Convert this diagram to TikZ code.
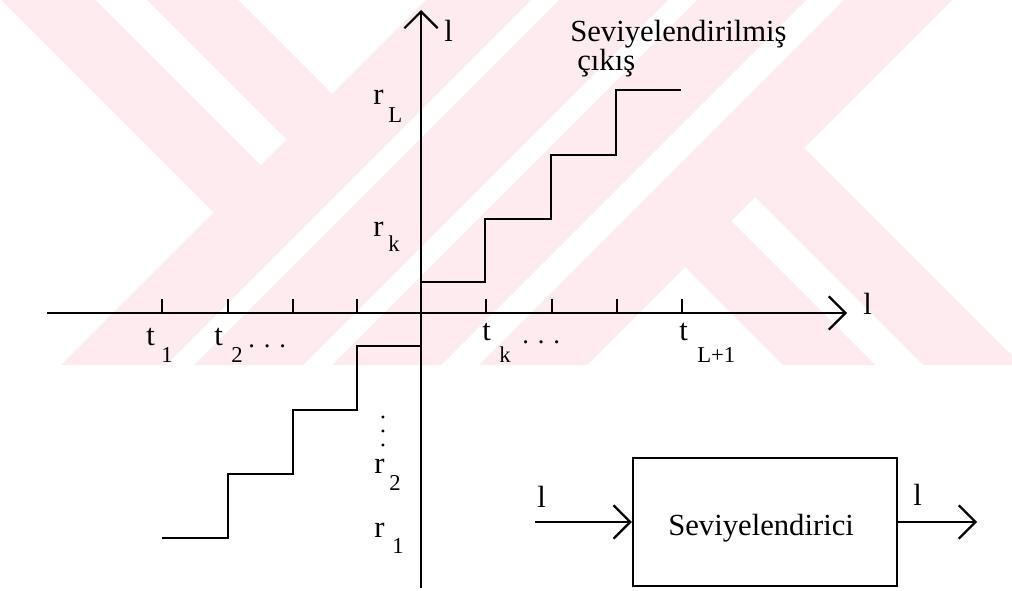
\documentclass[tikz,border=0pt]{standalone}
\usepackage{fontspec}
\setmainfont{Liberation Serif}
\usetikzlibrary{arrows.meta}
\definecolor{wm}{RGB}{253,235,239}
\begin{document}
\begin{tikzpicture}[x=0.75pt,y=-0.75pt,
  axisline/.style={line width=1.7pt},
  stair/.style={line width=1.9pt},
  barb/.style={-{Straight Barb[length=12.5pt,width=25pt]}},
  lbl/.style={inner sep=0pt,anchor=base west,font=\fontsize{23}{23}\selectfont},
  sublbl/.style={inner sep=0pt,anchor=base west,font=\fontsize{17}{17}\selectfont},
  dotlbl/.style={inner sep=0pt,anchor=base west,font=\fontsize{20}{20}\selectfont},
]
\useasboundingbox (0,0) rectangle (1012,591);
\fill[white] (0,0) rectangle (1012,591);
% watermark
\begin{scope}
\clip (0,0) rectangle (1012,365);
\fill[wm] (426,0) -- (531,0) -- (166,365) -- (61,365) -- cycle;
\fill[wm] (559,0) -- (668,0) -- (303,365) -- (194,365) -- cycle;
\fill[wm] (697,0) -- (806,0) -- (441,365) -- (332,365) -- cycle;
\fill[wm] (844,0) -- (952,0) -- (587,365) -- (479,365) -- cycle;
\fill[wm] (1,0) -- (95,0) -- (260.5,165.5) -- (213.5,212.5) -- cycle;
\fill[wm] (147,0) -- (238,0) -- (332,94) -- (286.5,139.5) -- cycle;
\fill[wm] (755,197) -- (804,148) -- (1021,365) -- (923,365) -- cycle;
\fill[wm] (685,267) -- (731,221) -- (875,365) -- (783,365) -- cycle;
\end{scope}
% axes
\coordinate (vb) at (421,588);
\coordinate (vt) at (421,10);
\coordinate (hl) at (47,313);
\coordinate (hr) at (847,313);
\draw[axisline,barb] (vb) -- (vt);
\draw[axisline,barb] (hl) -- (hr);
\foreach \x in {162,228,293,357,486,552,617,682}
  \draw[axisline] (\x,299) -- (\x,313);
% staircases
\draw[stair] (421,282) -- (485,282) -- (485,219) -- (551,219) -- (551,155) -- (616,155) -- (616,90) -- (681,90);
\draw[stair] (421,346) -- (357,346) -- (357,410) -- (293,410) -- (293,474) -- (228,474) -- (228,538) -- (162,538);
% axis labels
\node[lbl] (lv) at (444,42) {l};
\node[lbl] (lh) at (863,314) {l};
\node[lbl] (t1) at (146,345) {t};
\node[sublbl] (t1s) at (161,362) {1};
\node[lbl] (t2) at (214,345) {t};
\node[sublbl] (t2s) at (231,362) {2};
\node[dotlbl] (t2d) at (248,347) {. . .};
\node[lbl] (tk) at (482,340) {t};
\node[sublbl] (tks) at (499,362) {k};
\node[dotlbl] (tkd) at (522,343) {. . .};
\node[lbl] (tL) at (679,340) {t};
\node[sublbl] (tLs) at (697,362) {L+1};
\node[lbl] (rL) at (373,105) {r};
\node[sublbl] (rLs) at (388,123) {L};
\node[lbl] (rk) at (373,237) {r};
\node[sublbl] (rks) at (388,252) {k};
\node[inner sep=0pt,rotate=90,font=\fontsize{18}{18}\selectfont] (vd) at (383,431) {. . .};
\node[lbl] (r2) at (374,473) {r};
\node[sublbl] (r2s) at (389,490) {2};
\node[lbl] (r1) at (374,537) {r};
\node[sublbl] (r1s) at (392,553) {1};
\node[lbl] (ttl1) at (570,42) {Seviyelendirilmiş};
\node[lbl] (ttl2) at (577,71) {çıkış};
% block
\node[draw,line width=1.7pt,minimum width=198pt,minimum height=96pt,inner sep=0pt] (blk) at (765,522) {};
\node[lbl] (blktxt) at (668,535) {Seviyelendirici};
\coordinate (inS) at (535,522);
\coordinate (outE) at (977,522);
\draw[axisline,barb] (inS) -- (blk.west);
\draw[axisline,barb] (blk.east) -- (outE);
\node[lbl] (lin) at (537,507) {l};
\node[lbl] (lout) at (913,505) {l};
\end{tikzpicture}
\end{document}
